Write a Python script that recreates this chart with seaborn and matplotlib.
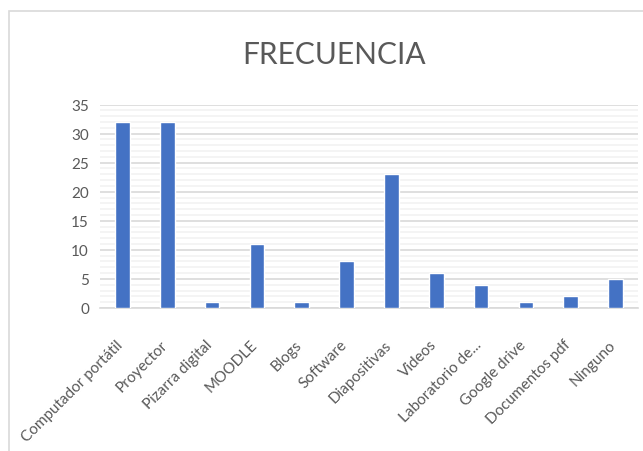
import matplotlib
matplotlib.use("Agg")
import matplotlib.pyplot as plt
import matplotlib.transforms as mtransforms
import seaborn as sns
import pandas as pd
from matplotlib.patches import Rectangle
from matplotlib.ticker import MultipleLocator

# Datos del grafico
categorias = ['Computador portátil', 'Proyector', 'Pizarra digital', 'MOODLE',
              'Blogs', 'Software', 'Diapositivas', 'Videos', 'Laboratorio de...',
              'Google drive', 'Documentos pdf', 'Ninguno']
frecuencia = [32, 32, 1, 11, 1, 8, 23, 6, 4, 1, 2, 5]
titulo = 'FRECUENCIA'

sns.set_style('white')
plt.rcParams['font.family'] = ['Lato', 'DejaVu Sans']

df = pd.DataFrame({'categoria': categorias, 'frecuencia': frecuencia})

fig = plt.figure(figsize=(6.43, 4.52), dpi=100)
ax = fig.add_axes([100 / 643, 1 - 309 / 452, 538 / 643, 203.5 / 452])

sns.barplot(data=df, x='categoria', y='frecuencia', color='#4472C4',
            saturation=1, width=0.33, ax=ax, zorder=3)

ax.set_ylim(0, 35)
ax.set_xlim(-0.5, len(categorias) - 0.5)
ax.yaxis.set_major_locator(MultipleLocator(5))
ax.yaxis.set_minor_locator(MultipleLocator(1))
ax.grid(axis='y', which='major', color='#d9d9d9', linewidth=1.2, zorder=0)
ax.grid(axis='y', which='minor', color='#f2f2f2', linewidth=1.2, zorder=0)
ax.set_axisbelow(True)
for s in ['top', 'right', 'left']:
    ax.spines[s].set_visible(False)
ax.spines['bottom'].set_color('#d9d9d9')
ax.spines['bottom'].set_linewidth(1.2)

ax.set_xlabel('')
ax.set_ylabel('')
ax.tick_params(axis='both', which='both', length=0, colors='#595959')
ax.tick_params(axis='y', labelsize=11, pad=8)
ax.tick_params(axis='x', labelsize=11, pad=21)
desplaz = mtransforms.ScaledTranslation(-7 / 100, 0, fig.dpi_scale_trans)
for lbl in ax.get_xticklabels():
    lbl.set_rotation(45)
    lbl.set_ha('right')
    lbl.set_rotation_mode('anchor')
    lbl.set_transform(lbl.get_transform() + desplaz)

fig.text(334 / 643, 1 - 55 / 452, titulo, ha='center', va='center',
         fontsize=21.5, color='#595959')

# borde del grafico
fig.patches.append(Rectangle((9 / 643, -0.05), 1.2, 1 - 12 / 452 + 0.05,
                             transform=fig.transFigure, fill=False,
                             edgecolor='#d9d9d9', linewidth=1.2))

fig.savefig('out.png', dpi=100)
